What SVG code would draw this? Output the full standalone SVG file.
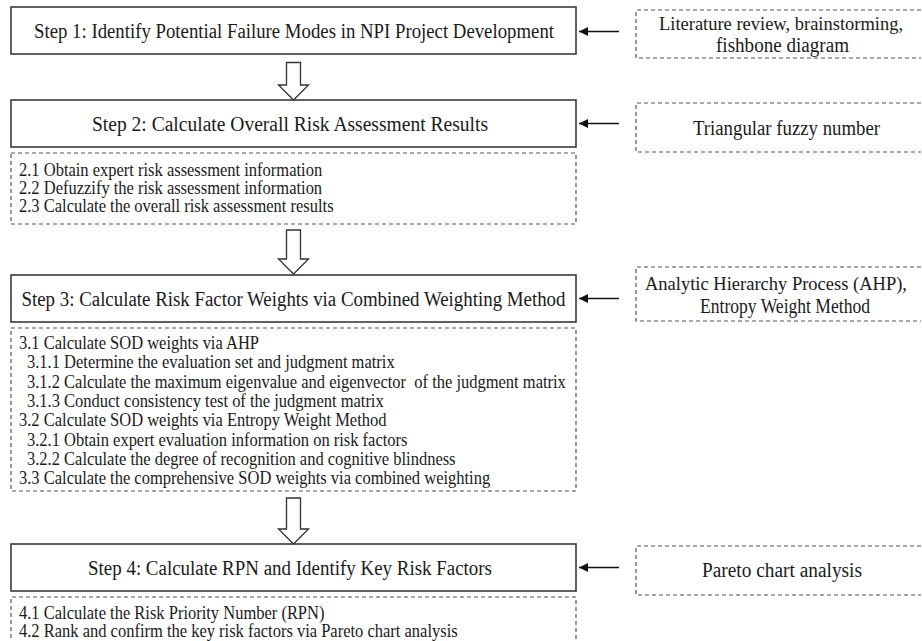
<svg xmlns="http://www.w3.org/2000/svg" width="922" height="641" viewBox="0 0 922 641">
<defs>
<style>
.step{fill:#fff;stroke:#3a3a3a;stroke-width:1.6}
.dash{fill:#fff;stroke:#555;stroke-width:1.2;stroke-dasharray:4 3}
.t{font-family:"Liberation Serif","Times New Roman",serif;fill:#1a1a1a;font-size:20.5px;text-anchor:middle;dominant-baseline:central}
.r{font-size:19px}
.s{font-family:"Liberation Serif","Times New Roman",serif;fill:#1a1a1a;font-size:18px;dominant-baseline:central;white-space:pre}
.blk{fill:#fff;stroke:#333;stroke-width:1.3}
.ln{stroke:#111;stroke-width:1.6;fill:none}
</style>
<marker id="ah" viewBox="0 0 10 10" refX="10" refY="5" markerWidth="9" markerHeight="9" markerUnits="userSpaceOnUse" orient="auto">
<path d="M0,0 L10,5 L0,10 z" fill="#111"/>
</marker>
</defs>

<g id="step1">
<rect class="step" x="11" y="7" width="565" height="47"/>
<text class="t" x="294" y="30.5" textLength="520" lengthAdjust="spacingAndGlyphs">Step 1: Identify Potential Failure Modes in NPI Project Development</text>
</g>
<g id="method1">
<path class="dash" d="M921,10 H636 V58 H921"/>
<text class="t r" x="781" y="23" textLength="244" lengthAdjust="spacingAndGlyphs">Literature review, brainstorming,</text>
<text class="t" x="782.5" y="45" textLength="133" lengthAdjust="spacingAndGlyphs">fishbone diagram</text>
</g>

<g id="step2">
<rect class="step" x="11" y="100" width="565" height="47"/>
<text class="t" x="290" y="123.5" textLength="396" lengthAdjust="spacingAndGlyphs">Step 2: Calculate Overall Risk Assessment Results</text>
</g>
<g id="method2">
<path class="dash" d="M921,103 H636 V152 H921"/>
<text class="t" x="786.5" y="127.5" textLength="187" lengthAdjust="spacingAndGlyphs">Triangular fuzzy number</text>
</g>
<g id="sub2">
<rect class="dash" x="11" y="153" width="565" height="71"/>
<g transform="translate(19,0) scale(0.917,1)">
<text class="s" x="0" y="170">2.1 Obtain expert risk assessment information</text>
<text class="s" x="0" y="188">2.2 Defuzzify the risk assessment information</text>
<text class="s" x="0" y="206">2.3 Calculate the overall risk assessment results</text>
</g>
</g>

<g id="step3">
<rect class="step" x="11" y="275" width="565" height="47"/>
<text class="t" x="293.5" y="298.5" textLength="544" lengthAdjust="spacingAndGlyphs">Step 3: Calculate Risk Factor Weights via Combined Weighting Method</text>
</g>
<g id="method3">
<path class="dash" d="M921,267 H636 V321 H921"/>
<text class="t r" x="776" y="283" textLength="262" lengthAdjust="spacingAndGlyphs">Analytic Hierarchy Process (AHP),</text>
<text class="t" x="785" y="306" textLength="170" lengthAdjust="spacingAndGlyphs">Entropy Weight Method</text>
</g>
<g id="sub3">
<rect class="dash" x="11" y="328" width="565" height="163"/>
<g transform="translate(19,0) scale(0.917,1)">
<text class="s" x="0" y="343">3.1 Calculate SOD weights via AHP</text>
<text class="s" x="8.7" y="362">3.1.1 Determine the evaluation set and judgment matrix</text>
<text class="s" x="8.7" y="382">3.1.2 Calculate the maximum eigenvalue and eigenvector  of the judgment matrix</text>
<text class="s" x="8.7" y="401">3.1.3 Conduct consistency test of the judgment matrix</text>
<text class="s" x="0" y="420">3.2 Calculate SOD weights via Entropy Weight Method</text>
<text class="s" x="8.7" y="440">3.2.1 Obtain expert evaluation information on risk factors</text>
<text class="s" x="8.7" y="459">3.2.2 Calculate the degree of recognition and cognitive blindness</text>
<text class="s" x="0" y="478">3.3 Calculate the comprehensive SOD weights via combined weighting</text>
</g>
</g>

<g id="step4">
<rect class="step" x="11" y="544" width="565" height="47"/>
<text class="t" x="290" y="567.5" textLength="404" lengthAdjust="spacingAndGlyphs">Step 4: Calculate RPN and Identify Key Risk Factors</text>
</g>
<g id="method4">
<path class="dash" d="M921,546 H636 V595 H921"/>
<text class="t" x="782" y="570" textLength="160" lengthAdjust="spacingAndGlyphs">Pareto chart analysis</text>
</g>
<g id="sub4">
<path class="dash" d="M11,645 V597 H576 V645"/>
<g transform="translate(19,0) scale(0.917,1)">
<text class="s" x="0" y="613">4.1 Calculate the Risk Priority Number (RPN)</text>
<text class="s" x="0" y="631">4.2 Rank and confirm the key risk factors via Pareto chart analysis</text>
</g>
</g>

<g id="connectors">
<path class="blk" d="M286.5,62.5 H300.5 V85 H308.5 L293.5,100 L278.5,85 H286.5 Z"/>
<path class="blk" d="M286.5,230 H300.5 V259 H308.5 L293.5,274 L278.5,259 H286.5 Z"/>
<path class="blk" d="M286.5,498 H300.5 V529 H308.5 L293.5,544 L278.5,529 H286.5 Z"/>
<line class="ln" x1="619" y1="31.5" x2="579" y2="31.5" marker-end="url(#ah)"/>
<line class="ln" x1="619" y1="123.5" x2="579" y2="123.5" marker-end="url(#ah)"/>
<line class="ln" x1="619" y1="298.5" x2="579" y2="298.5" marker-end="url(#ah)"/>
<line class="ln" x1="619" y1="567.5" x2="579" y2="567.5" marker-end="url(#ah)"/>
</g>
</svg>
